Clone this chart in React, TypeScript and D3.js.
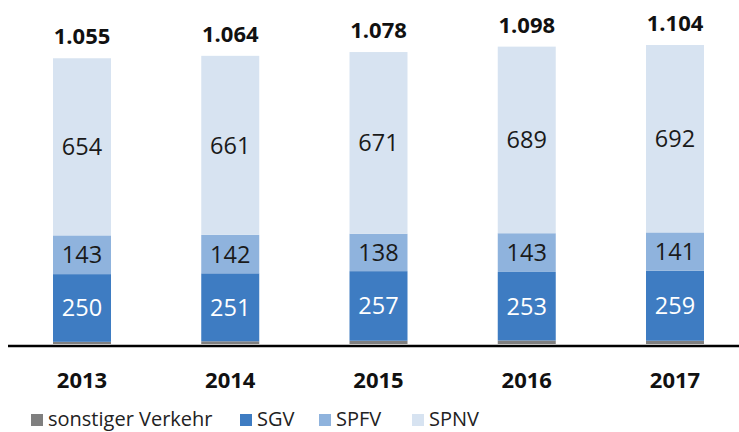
import React from "react";
import * as d3 from "d3";

const years = ["2013", "2014", "2015", "2016", "2017"];
const sonstiger = [8, 10, 12, 13, 12];
const sgv = [250, 251, 257, 253, 259];
const spfv = [143, 142, 138, 143, 141];
const spnv = [654, 661, 671, 689, 692];
const totals = ["1.055", "1.064", "1.078", "1.098", "1.104"];
const seriesNames = ["sonstiger Verkehr", "SGV", "SPFV", "SPNV"];
const colors = ["#7f7f7f", "#3e7cc2", "#8fb3dd", "#d7e3f1"];
const labelColors = ["none", "#ffffff", "#1a1a1a", "#1a1a1a"];

const W = 739, H = 432;
const FONT = "'Open Sans', sans-serif";

export default function App() {
  const x = d3.scalePoint<string>().domain(years).range([82, 675]);
  const y = d3.scaleLinear().domain([0, 1104]).range([344, 45]);
  const barW = 58;
  const rows = years.map((yr, i) => ({ year: yr, s0: sonstiger[i], s1: sgv[i], s2: spfv[i], s3: spnv[i] }));
  const stack = d3.stack<any>().keys(["s0", "s1", "s2", "s3"]);
  const series = stack(rows);
  const values = [sonstiger, sgv, spfv, spnv];

  const legendX = [31, 240, 319, 412];

  return (
    <svg width={W} height={H} style={{ position: "absolute", left: 0, top: 0, background: "#fff" }} fontFamily={FONT}>
      {series.map((s, si) => (
        <g key={si}>
          {s.map((d, i) => (
            <rect key={i} x={(x(years[i]) as number) - barW / 2} y={y(d[1])} width={barW} height={y(d[0]) - y(d[1])} fill={colors[si]} />
          ))}
          {si > 0 && s.map((d, i) => (
            <text key={"t" + i} x={x(years[i]) as number} y={(y(d[0]) + y(d[1])) / 2} dy="0.36em" textAnchor="middle" fontSize={23.5} fill={labelColors[si]}>
              {values[si][i]}
            </text>
          ))}
        </g>
      ))}
      {series[3].map((d, i) => (
        <text key={"tot" + i} x={x(years[i]) as number} y={y(d[1]) - 14} textAnchor="middle" fontSize={22} fontWeight="bold" fill="#111">
          {totals[i]}
        </text>
      ))}
      <line x1={8} x2={739} y1={346} y2={346} stroke="#000" strokeWidth={2.5} />
      {years.map((yr) => (
        <text key={yr} x={x(yr) as number} y={388} textAnchor="middle" fontSize={22} fontWeight="bold" fill="#111">
          {yr}
        </text>
      ))}
      {seriesNames.map((n, i) => (
        <g key={n}>
          <rect x={legendX[i]} y={414} width={12} height={12} fill={colors[i]} />
          <text x={legendX[i] + 17} y={426} fontSize={20} fill="#222">{n}</text>
        </g>
      ))}
    </svg>
  );
}
